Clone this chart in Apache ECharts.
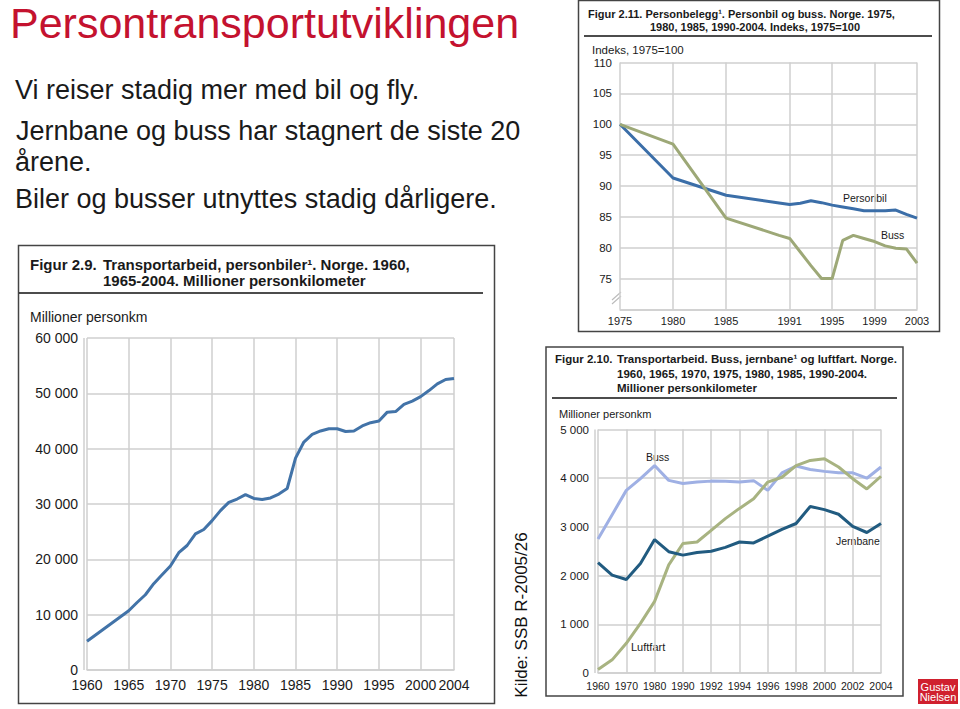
<!DOCTYPE html>
<html>
<head>
<meta charset="utf-8">
<script src="https://cdn.jsdelivr.net/npm/echarts@6/dist/echarts.min.js"></script>
<style>
html,body{margin:0;padding:0;background:#fff;}
#c{width:960px;height:709px;}
</style>
</head>
<body>
<div id="c"></div>
<script>
// ---------- Figure 2.11 (index, 1975=100) ----------
const fig1Years = [1975,1980,1985,1990,1991,1992,1993,1994,1995,1996,1997,1998,1999,2000,2001,2002,2003];
const fig1Personbil = [100,91.3,88.5,87.25,87.0,87.2,87.6,87.3,86.9,86.6,86.3,86.0,86.0,86.0,86.1,85.4,84.8];
const fig1Buss = [100,96.8,84.8,82.0,81.5,79.3,77.1,75.0,75.0,81.2,82.0,81.5,81.0,80.3,79.9,79.8,77.5];
const fig1AxisYears = [1975,2003];
const fig1TickYears = ['1975','1980','1985','1991','1995','1999','2003'];

// ---------- Figure 2.9 (personbiler, mill. personkm) ----------
const fig2Years = [1960,1965,1966,1967,1968,1969,1970,1971,1972,1973,1974,1975,1976,1977,1978,1979,1980,1981,1982,1983,1984,1985,1986,1987,1988,1989,1990,1991,1992,1993,1994,1995,1996,1997,1998,1999,2000,2001,2002,2003,2004];
const fig2Personbiler = [5200,10700,12200,13600,15600,17200,18800,21200,22500,24600,25400,27000,28800,30300,30900,31700,31000,30800,31100,31800,32800,38300,41200,42600,43200,43600,43600,43100,43200,44100,44700,45000,46600,46700,48000,48600,49400,50500,51700,52500,52700];
const fig2AxisYears = [1960,2004];
const fig2TickYears = ['1960','1965','1970','1975','1980','1985','1990','1995','2000','2004'];

// ---------- Figure 2.10 (buss, jernbane, luftfart) ----------
const fig3Years = ['1960','1965','1970','1975','1980','1985','1990','1991','1992','1993','1994','1995','1996','1997','1998','1999','2000','2001','2002','2003','2004'];
const fig3Buss = [2750,3250,3750,3990,4260,3955,3890,3920,3940,3935,3920,3950,3750,4110,4250,4180,4140,4110,4110,4000,4230];
const fig3Jernbane = [2265,2010,1920,2250,2740,2490,2420,2475,2500,2580,2690,2670,2810,2950,3070,3420,3355,3260,3010,2885,3070];
const fig3Luftfart = [70,270,610,1020,1470,2220,2660,2690,2930,3170,3380,3580,3920,4020,4260,4365,4400,4230,3990,3780,4040];
const fig3TickYears = ['1960','1970','1980','1990','1992','1994','1996','1998','2000','2002','2004'];

function range(a,b){const r=[];for(let i=a;i<=b;i++)r.push(String(i));return r;}
const cat1 = range(fig1AxisYears[0], fig1AxisYears[1]);
const cat2 = range(fig2AxisYears[0], fig2AxisYears[1]);
function pairs(xs, ys){return xs.map((x,i)=>[String(x), ys[i]]);}
function thousands(v){ if(v===0) return '0'; return (v/1000)+' 000'; }

const FONT = "'Liberation Sans', Arial, sans-serif";
const GRID = '#cfcfcf';
const TXT = '#1a1a1a';

function catX(gi, cats, ticks, fs, margin){
  const f = (idx, val) => ticks.indexOf(val) >= 0;
  return {
    type:'category', gridIndex:gi, data:cats, boundaryGap:false,
    axisLine:{show:true, lineStyle:{color:GRID, width:1.5}},
    axisTick:{show:false},
    axisLabel:{interval:f, fontSize:fs, color:TXT, margin:margin, fontFamily:FONT, hideOverlap:false},
    splitLine:{show:true, interval:f, lineStyle:{color:GRID, width:1.5}}
  };
}
function valY(gi, min, max, step, fs, margin, fmt){
  return {
    type:'value', gridIndex:gi, min:min, max:max, interval:step,
    axisLine:{show:false}, axisTick:{show:false},
    axisLabel:{fontSize:fs, color:TXT, margin:margin, fontFamily:FONT, formatter:fmt},
    splitLine:{show:true, lineStyle:{color:GRID, width:1.5}}
  };
}
function txt(x, y, s, font, extra){
  return Object.assign({type:'text', x:x, y:y, silent:true,
    style:{text:s, font:font, fill:TXT, textAlign:'left', textVerticalAlign:'middle'}}, extra||{});
}

const chart = echarts.init(document.getElementById('c'), null, {renderer:'svg'});
const option = {
  animation:false,
  backgroundColor:'#fff',
  textStyle:{fontFamily:FONT},
  grid:[
    {left:620, top:62.6, width:297, height:246.8, outerBoundsMode:'none'},
    {left:87, top:338, width:367, height:332, outerBoundsMode:'none'},
    {left:598, top:429.5, width:283, height:243.5, outerBoundsMode:'none'}
  ],
  xAxis:[
    catX(0, cat1, fig1TickYears, 11, 6),
    catX(1, cat2, fig2TickYears, 14, 8),
    catX(2, fig3Years, fig3TickYears, 10.5, 7)
  ],
  yAxis:[
    valY(0, 70, 110, 5, 11.5, 8, v => v===70 ? '' : String(v)),
    valY(1, 0, 60000, 10000, 14, 9, thousands),
    valY(2, 0, 5000, 1000, 11.5, 9, thousands)
  ],
  series:[
    {name:'Personbil', type:'line', xAxisIndex:0, yAxisIndex:0, showSymbol:false,
     data:pairs(fig1Years, fig1Personbil), lineStyle:{color:'#3b6ea8', width:3}, itemStyle:{color:'#3b6ea8'}},
    {name:'Buss', type:'line', xAxisIndex:0, yAxisIndex:0, showSymbol:false,
     data:pairs(fig1Years, fig1Buss), lineStyle:{color:'#9da877', width:3}, itemStyle:{color:'#9da877'}},
    {name:'Personbiler', type:'line', xAxisIndex:1, yAxisIndex:1, showSymbol:false,
     data:pairs(fig2Years, fig2Personbiler), lineStyle:{color:'#4273a8', width:3}, itemStyle:{color:'#4273a8'}},
    {name:'Buss', type:'line', xAxisIndex:2, yAxisIndex:2, showSymbol:false,
     data:pairs(fig3Years, fig3Buss), lineStyle:{color:'#9fb0e4', width:3}, itemStyle:{color:'#9fb0e4'}},
    {name:'Luftfart', type:'line', xAxisIndex:2, yAxisIndex:2, showSymbol:false,
     data:pairs(fig3Years, fig3Luftfart), lineStyle:{color:'#a8b381', width:3}, itemStyle:{color:'#a8b381'}},
    {name:'Jernbane', type:'line', xAxisIndex:2, yAxisIndex:2, showSymbol:false,
     data:pairs(fig3Years, fig3Jernbane), lineStyle:{color:'#215b80', width:3}, itemStyle:{color:'#215b80'}}
  ],
  graphic:[
    // slide title and bullet text
    {type:'text', x:10, y:1, silent:true,
     style:{text:'Persontransportutviklingen', font:'43px '+FONT, fill:'#c4122f', textAlign:'left', textVerticalAlign:'top'}},
    txt(15, 89.6, 'Vi reiser stadig mer med bil og fly.', '27px '+FONT),
    txt(16, 130.6, 'Jernbane og buss har stagnert de siste 20', '27px '+FONT),
    txt(15, 161.6, 'årene.', '27px '+FONT),
    txt(15, 198.6, 'Biler og busser utnyttes stadig dårligere.', '27px '+FONT),

    // box 1
    {type:'rect', silent:true, shape:{x:578.5, y:0.5, width:361, height:331}, style:{fill:'none', stroke:'#444', lineWidth:1.5}},
    txt(588, 14, 'Figur 2.11. Personbelegg¹. Personbil og buss. Norge. 1975,', 'bold 11px '+FONT),
    txt(650, 27, '1980, 1985, 1990-2004. Indeks, 1975=100', 'bold 11px '+FONT),
    {type:'line', silent:true, shape:{x1:584, y1:36, x2:932, y2:36}, style:{stroke:'#111', lineWidth:1.5}},
    txt(592, 50, 'Indeks, 1975=100', '11.5px '+FONT),
    txt(843, 198, 'Personbil', '10.5px '+FONT),
    txt(881, 235, 'Buss', '10.5px '+FONT),
    {type:'line', silent:true, shape:{x1:612, y1:300, x2:621, y2:292}, style:{stroke:'#bbb', lineWidth:1.2}},
    {type:'line', silent:true, shape:{x1:612, y1:304, x2:621, y2:296}, style:{stroke:'#bbb', lineWidth:1.2}},

    // box 2
    {type:'rect', silent:true, shape:{x:18.5, y:245.5, width:476, height:458}, style:{fill:'none', stroke:'#444', lineWidth:1.5}},
    txt(30, 264, 'Figur 2.9.', 'bold 15px '+FONT),
    txt(103, 264, 'Transportarbeid, personbiler¹. Norge. 1960,', 'bold 15px '+FONT),
    txt(103, 280, '1965-2004. Millioner personkilometer', 'bold 15px '+FONT),
    {type:'line', silent:true, shape:{x1:19, y1:293, x2:483, y2:293}, style:{stroke:'#111', lineWidth:1.5}},
    txt(30, 317, 'Millioner personkm', '14px '+FONT),
    {type:'line', silent:true, shape:{x1:84, y1:338, x2:84, y2:670}, style:{stroke:GRID, lineWidth:1.5}},

    // box 3
    {type:'rect', silent:true, shape:{x:546, y:347, width:357, height:349}, style:{fill:'none', stroke:'#444', lineWidth:1.5}},
    txt(555, 359, 'Figur 2.10.', 'bold 11.5px '+FONT),
    txt(617, 359, 'Transportarbeid. Buss, jernbane¹ og luftfart. Norge.', 'bold 11.5px '+FONT),
    txt(617, 374, '1960, 1965, 1970, 1975, 1980, 1985, 1990-2004.', 'bold 11.5px '+FONT),
    txt(617, 388, 'Millioner personkilometer', 'bold 11.5px '+FONT),
    {type:'line', silent:true, shape:{x1:552, y1:398, x2:897, y2:398}, style:{stroke:'#111', lineWidth:1.5}},
    txt(559, 414, 'Millioner personkm', '11px '+FONT),
    txt(646, 457, 'Buss', '10.5px '+FONT),
    txt(836, 541, 'Jernbane', '10.5px '+FONT),
    txt(631, 647, 'Luftfart', '11px '+FONT),
    {type:'line', silent:true, shape:{x1:595, y1:429.5, x2:595, y2:673}, style:{stroke:GRID, lineWidth:1.5}},

    // source
    {type:'text', silent:true, x:521, y:615, rotation:Math.PI/2,
     style:{text:'Kilde: SSB R-2005/26', font:'17px '+FONT, fill:'#111', textAlign:'center', textVerticalAlign:'middle'}},

    // logo
    {type:'rect', silent:true, shape:{x:918, y:679, width:40, height:25}, style:{fill:'#d0202e'}},
    {type:'text', silent:true, x:938, y:686.5, style:{text:'Gustav', font:'11px '+FONT, fill:'#fff', textAlign:'center', textVerticalAlign:'middle'}},
    {type:'text', silent:true, x:938, y:697, style:{text:'Nielsen', font:'11px '+FONT, fill:'#fff', textAlign:'center', textVerticalAlign:'middle'}}
  ]
};
chart.setOption(option);
</script>
</body>
</html>
